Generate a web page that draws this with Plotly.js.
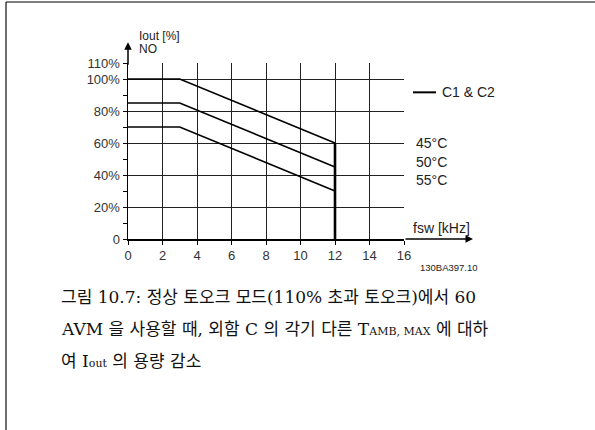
<!DOCTYPE html>
<html>
<head>
<meta charset="utf-8">
<script src="https://cdn.plot.ly/plotly-3.0.1.min.js"></script>
<style>html,body{margin:0;padding:0;background:#fff;}#chart{width:595px;height:430px;}</style>
</head>
<body>
<div id="chart"></div>
<script>
// Data
const fsw = [0, 3, 12];
const iout45 = [100, 100, 60];
const iout50 = [85, 85, 45];
const iout55 = [70, 70, 30];
const cutoffX = [12, 12];
const cutoffY = [0, 60];
const tempLabels = ['45°C', '50°C', '55°C'];
const xTicks = [0, 2, 4, 6, 8, 10, 12, 14, 16];
const yTicks = [0, 20, 40, 60, 80, 100, 110];
const yTickText = ['0', '20%', '40%', '60%', '80%', '100%', '110%'];
const yMinorTicks = [10, 30, 50, 70, 90];
const seriesName = 'C1 & C2';
const captionLines = [
  '그림 10.7: 정상 토오크 모드(110% 초과 토오크)에서 60',
  'AVM 을 사용할 때, 외함 C 의 각기 다른 T<span style="font-size:11px">AMB, MAX</span> 에 대하',
  '여 I<span style="font-size:11px">out</span> 의 용량 감소'
];

const lineStyle = {color: '#000', width: 1.6};
const traces = [
  {x: fsw, y: iout45, mode: 'lines', line: lineStyle, name: seriesName, showlegend: false, hoverinfo: 'skip'},
  {x: fsw, y: iout50, mode: 'lines', line: lineStyle, showlegend: false, hoverinfo: 'skip'},
  {x: fsw, y: iout55, mode: 'lines', line: lineStyle, showlegend: false, hoverinfo: 'skip'},
  {x: cutoffX, y: cutoffY, mode: 'lines', line: {color: '#000', width: 2.6}, showlegend: false, hoverinfo: 'skip', cliponaxis: false}
];

const sans = 'Liberation Sans, Arial, sans-serif';
const capFont = {family: 'DejaVu Serif, Noto Sans CJK KR, serif', size: 17, color: '#111'};
const lblFont = {family: sans, size: 14, color: '#222'};

const annotations = [
  {x: 0, y: 123, ax: 0, ay: 108, axref: 'x', ayref: 'y', xref: 'x', yref: 'y', text: '', showarrow: true, arrowhead: 2, arrowsize: 1, arrowwidth: 1.5, arrowcolor: '#000'},
  {x: 20.0, y: 0, ax: 16, ay: 0, axref: 'x', ayref: 'y', xref: 'x', yref: 'y', text: '', showarrow: true, arrowhead: 2, arrowsize: 1, arrowwidth: 1.5, arrowcolor: '#000'},
  {x: 0.0326, y: 1.155, xref: 'paper', yref: 'paper', text: 'Iout [%]', showarrow: false, xanchor: 'left', yanchor: 'middle', font: {family: sans, size: 12, color: '#222'}},
  {x: 0.0326, y: 1.077, xref: 'paper', yref: 'paper', text: 'NO', showarrow: false, xanchor: 'left', yanchor: 'middle', font: {family: sans, size: 12, color: '#222'}},
  {x: 1.0254, y: 0.0624, xref: 'paper', yref: 'paper', text: 'fsw [kHz]', showarrow: false, xanchor: 'left', yanchor: 'middle', font: lblFont},
  {x: 1.1304, y: 0.8333, xref: 'paper', yref: 'paper', text: seriesName, showarrow: false, xanchor: 'left', yanchor: 'middle', font: lblFont},
  {x: 1.0507, y: -0.1644, xref: 'paper', yref: 'paper', text: '130BA397.10', showarrow: false, xanchor: 'left', yanchor: 'middle', font: {family: sans, size: 9.5, color: '#222'}}
];
const tempY = [0.5442, 0.4365, 0.3345];
tempLabels.forEach((t, i) => annotations.push({x: 1.0362, y: tempY[i], xref: 'paper', yref: 'paper', text: t, showarrow: false, xanchor: 'left', yanchor: 'middle', font: lblFont}));
const capY = [-0.3288, -0.5102, -0.6916];
captionLines.forEach((t, i) => annotations.push({x: -0.25, y: capY[i], xref: 'paper', yref: 'paper', text: t, showarrow: false, xanchor: 'left', yanchor: 'middle', font: capFont}));

const shapes = [
  {type: 'line', xref: 'paper', yref: 'paper', x0: 1.0326, x1: 1.1159, y0: 0.8333, y1: 0.8333, line: {color: '#000', width: 2}},
  {type: 'line', xref: 'paper', yref: 'paper', x0: -0.442, x1: 1.7, y0: 1.3464, y1: 1.3464, line: {color: '#555', width: 1.5}},
  {type: 'line', xref: 'paper', yref: 'paper', x0: -0.442, x1: -0.442, y0: 1.3464, y1: -1.1, line: {color: '#222', width: 1.3}}
];

const layout = {
  width: 595, height: 430,
  margin: {l: 128, r: 191, t: 62.6, b: 191, pad: 0},
  paper_bgcolor: '#fff', plot_bgcolor: '#fff',
  showlegend: false,
  xaxis: {
    range: [0, 16], tickvals: xTicks, ticktext: xTicks.map(String),
    showgrid: true, gridcolor: '#222', gridwidth: 1,
    zeroline: false, showline: true, linecolor: '#000', linewidth: 1.5,
    ticks: 'outside', ticklen: 4, tickcolor: '#000', tickwidth: 1,
    tickfont: {family: sans, size: 13, color: '#333'}, fixedrange: true
  },
  yaxis: {
    range: [0, 110], tickvals: yTicks, ticktext: yTickText,
    showgrid: true, gridcolor: '#222', gridwidth: 1,
    zeroline: false, showline: true, linecolor: '#000', linewidth: 1.5,
    ticks: 'outside', ticklen: 4, tickcolor: '#000', tickwidth: 1,
    minor: {tickvals: yMinorTicks, ticks: 'outside', ticklen: 4, tickcolor: '#000', showgrid: false},
    tickfont: {family: sans, size: 13, color: '#333'}, fixedrange: true
  },
  annotations: annotations,
  shapes: shapes
};

Plotly.newPlot('chart', traces, layout, {staticPlot: true, displayModeBar: false});
</script>
</body>
</html>
